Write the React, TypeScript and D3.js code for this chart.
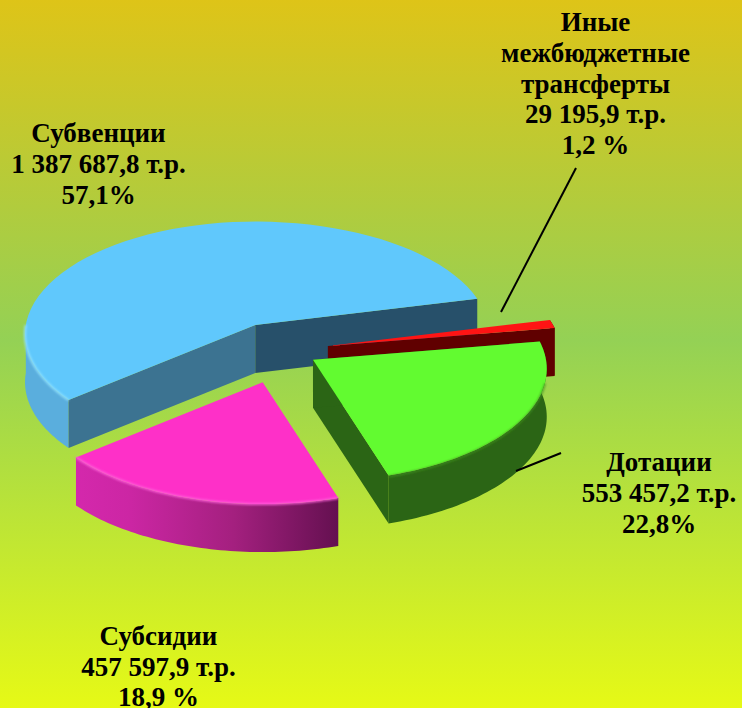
import * as d3 from "d3";

const categories = ["Иные межбюджетные трансферты", "Дотации", "Субсидии", "Субвенции"];
const amounts = [29195.9, 553457.2, 457597.9, 1387687.8];
const labelLines = [
  ["Иные", "межбюджетные", "трансферты", "29 195,9 т.р.", "1,2 %"],
  ["Дотации", "553 457,2 т.р.", "22,8%"],
  ["Субсидии", "457 597,9 т.р.", "18,9 %"],
  ["Субвенции", "1 387 687,8 т.р.", "57,1%"],
];
// how far each slice is pulled out of the pie, share of radius
const explode = [0.2, 0.155, 0.295, 0.257];

const width = 742;
const height = 708;
const cx = 282.2;
const cy = 350.6;
const R = 233;
const tilt = 0.48;
const persp = 0.082;
const leftSquash = 0.985;
const depth = 48;

const topColors = ["#ff1414", "#62fb30", "#fe30c8", "#60c8fc"];
const sideColors = ["#600000", "#2b6515", "#a82088", "#5aaedd"];
const labelX = [595.5, 659, 158.5, 98.5];
const labelY = [31, 471, 645, 142];
const lineGap = [30.8, 31, 30.5, 31];

const pieGen = d3
  .pie<number>()
  .sort(null)
  .startAngle((76.2 * Math.PI) / 180)
  .endAngle((76.2 * Math.PI) / 180 + 2 * Math.PI);

const arcs = pieGen(amounts);
const toTheta = (a: number) => a - Math.PI / 2;

function project(theta: number) {
  const u = Math.cos(theta);
  const v = Math.sin(theta);
  const s = 1 / (1 - persp * v);
  return [R * u * s * (u < 0 ? leftSquash : 1), R * tilt * v * s] as [number, number];
}

const line = d3.line();

function apex(i: number) {
  const mid = toTheta((arcs[i].startAngle + arcs[i].endAngle) / 2);
  return [
    cx + R * explode[i] * Math.cos(mid),
    cy + R * tilt * explode[i] * Math.sin(mid),
  ] as [number, number];
}

function arcPoints(i: number, from: number, to: number, dy = 0) {
  const [ax, ay] = apex(i);
  return d3.range(0, 61).map((k) => {
    const t = from + ((to - from) * k) / 60;
    const [x, y] = project(t);
    return [ax + x, ay + y + dy] as [number, number];
  });
}

function topPath(i: number) {
  const p = apex(i);
  return line([p, ...arcPoints(i, toTheta(arcs[i].startAngle), toTheta(arcs[i].endAngle)), p]) + "Z";
}

function outerSide(i: number, from: number, to: number) {
  const a = arcPoints(i, from, to);
  const b = arcPoints(i, from, to, depth).reverse();
  return line([...a, ...b]) + "Z";
}

function radialSide(i: number, theta: number) {
  const p = apex(i);
  const [x, y] = project(theta);
  const e: [number, number] = [p[0] + x, p[1] + y];
  return line([p, e, [e[0], e[1] + depth], [p[0], p[1] + depth]]) + "Z";
}

export default function App() {
  const start = (i: number) => toTheta(arcs[i].startAngle);
  const end = (i: number) => toTheta(arcs[i].endAngle);

  return (
    <svg
      width={width}
      height={height}
      style={{ position: "absolute", left: 0, top: 0 }}
      fontFamily="'Liberation Serif', serif"
    >
      <defs>
        <linearGradient id="bg" x1="0" y1="0" x2="0" y2="1">
          <stop offset="0" stopColor="#dec418" />
          <stop offset="0.48" stopColor="#94d155" />
          <stop offset="1" stopColor="#e6f916" />
        </linearGradient>
        <linearGradient id="pinkSide" x1="0" y1="0" x2="1" y2="0">
          <stop offset="0" stopColor="#d428ac" />
          <stop offset="0.2" stopColor="#cc26a4" />
          <stop offset="0.6" stopColor="#a4207f" />
          <stop offset="1" stopColor="#641050" />
        </linearGradient>
        <filter id="soft" x="-10%" y="-10%" width="120%" height="120%">
          <feGaussianBlur stdDeviation="1" />
        </filter>
      </defs>
      <rect width={width} height={height} fill="url(#bg)" />

      {/* Субвенции */}
      <path d={outerSide(3, start(3), Math.PI)} fill={sideColors[3]} />
      <path d={radialSide(3, start(3))} fill="#3c7391" />
      <path d={radialSide(3, end(3))} fill="#27506a" />
      <path d={topPath(3)} fill={topColors[3]} />
      <path
        d={line(arcPoints(3, start(3), Math.PI)) ?? ""}
        fill="none"
        stroke="#90e0ff"
        strokeWidth={2}
        filter="url(#soft)"
      />

      {/* Иные межбюджетные трансферты */}
      <path d={radialSide(0, end(0))} fill={sideColors[0]} />
      <path d={outerSide(0, start(0), end(0))} fill={sideColors[0]} />
      <path d={topPath(0)} fill={topColors[0]} />

      {/* Дотации */}
      <path d={radialSide(1, end(1))} fill={sideColors[1]} />
      <path d={radialSide(1, start(1))} fill={sideColors[1]} />
      <path d={outerSide(1, start(1), end(1))} fill={sideColors[1]} />
      <path d={topPath(1)} fill={topColors[1]} />
      <path
        d={line(arcPoints(1, (start(1) + end(1)) / 2 - 0.35, end(1), 1)) ?? ""}
        fill="none"
        stroke="#3f9220"
        strokeWidth={1.5}
        filter="url(#soft)"
      />

      {/* Субсидии */}
      <path d={outerSide(2, start(2), end(2))} fill="url(#pinkSide)" />
      <path d={topPath(2)} fill={topColors[2]} />
      <path
        d={line(arcPoints(2, start(2), end(2))) ?? ""}
        fill="none"
        stroke="#ff60dc"
        strokeWidth={2}
        filter="url(#soft)"
      />

      <line x1={576} y1={168} x2={501} y2={312} stroke="#000" strokeWidth={2} />
      <line x1={561} y1={453} x2={516} y2={471} stroke="#000" strokeWidth={2} />

      {labelLines.map((lines, i) => (
        <text
          key={categories[i]}
          x={labelX[i]}
          y={labelY[i]}
          textAnchor="middle"
          fontSize={27}
          fontWeight="bold"
          fill="#000"
        >
          {lines.map((t, j) => (
            <tspan key={j} x={labelX[i]} dy={j === 0 ? 0 : lineGap[i]}>
              {t}
            </tspan>
          ))}
        </text>
      ))}
    </svg>
  );
}
